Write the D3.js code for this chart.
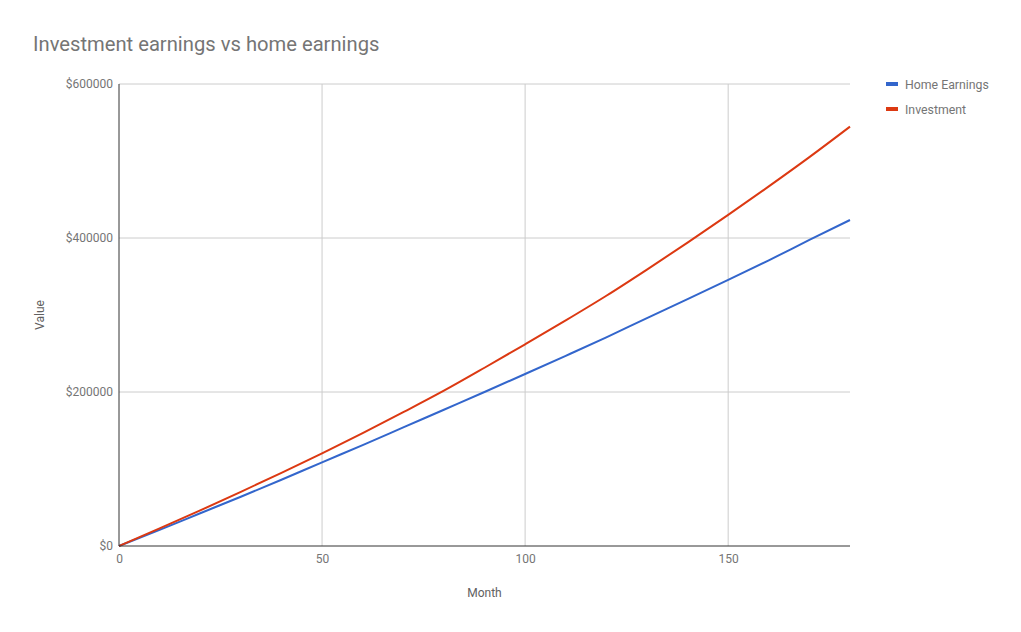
<!DOCTYPE html>
<html>
<head>
<meta charset="utf-8">
<script src="https://cdn.jsdelivr.net/npm/d3@7"></script>
<style>
  body { margin: 0; background: #fff; }
  svg { font-family: Roboto, "Noto Sans", sans-serif; }
</style>
</head>
<body>
<svg id="chart"></svg>
<script>
// data (month, value in $)
const months = [0, 10, 20, 30, 40, 50, 60, 70, 80, 90, 100, 110, 120, 130, 140, 150, 160, 170, 180];
const homeEarnings = [0, 21000, 42500, 64000, 86000, 108700, 131000, 154000, 177000, 200000, 223400, 247000, 271000, 296000, 320500, 345500, 371000, 397500, 423400];
const investment = [0, 22800, 46200, 70300, 95000, 120400, 146700, 173800, 201700, 231500, 262000, 293000, 325000, 359000, 394000, 430000, 467000, 505000, 544600];
const seriesNames = ["Home Earnings", "Investment"];
const colors = ["#3366cc", "#dc3912"];
const xTicks = [0, 50, 100, 150];
const yTicks = [0, 200000, 400000, 600000];

const W = 1021, H = 632;
const margin = {top: 84, right: 171, bottom: 86, left: 119};
const width = W - margin.left - margin.right;
const height = H - margin.top - margin.bottom;

const svg = d3.select("#chart").attr("width", W).attr("height", H);

svg.append("text")
  .attr("x", 33).attr("y", 51)
  .attr("font-size", 20.2)
  .attr("fill", "#757575")
  .text("Investment earnings vs home earnings");

const g = svg.append("g")
  .attr("transform", "translate(" + margin.left + "," + margin.top + ")");

const x = d3.scaleLinear().domain([0, 180]).range([0, width]);
const y = d3.scaleLinear().domain([0, 600000]).range([height, 0]);

// gridlines
g.append("g").selectAll("line").data(yTicks.filter(d => d > 0)).enter().append("line")
  .attr("x1", 0).attr("x2", width)
  .attr("y1", d => y(d)).attr("y2", d => y(d))
  .attr("stroke", "#cccccc");
g.append("g").selectAll("line").data(xTicks.filter(d => d > 0)).enter().append("line")
  .attr("y1", 0).attr("y2", height)
  .attr("x1", d => x(d)).attr("x2", d => x(d))
  .attr("stroke", "#cccccc");

// axes
const yAxis = g.append("g")
  .call(d3.axisLeft(y).tickValues(yTicks).tickSize(0).tickPadding(6).tickFormat(d => "$" + d));
const xAxis = g.append("g")
  .attr("transform", "translate(0," + height + ")")
  .call(d3.axisBottom(x).tickValues(xTicks).tickSize(0).tickPadding(8));
[xAxis, yAxis].forEach(a => {
  a.select(".domain").remove();
  a.selectAll("text").attr("fill", "#757575").attr("font-size", 12)
    .attr("font-family", "Roboto, sans-serif");
});

// series lines
const line = d3.line()
  .x((d, i) => x(months[i]))
  .y(d => y(d))
  .curve(d3.curveMonotoneX);

[homeEarnings, investment].forEach((s, i) => {
  g.append("path")
    .datum(s)
    .attr("fill", "none")
    .attr("stroke", colors[i])
    .attr("stroke-width", 2)
    .attr("d", line);
});

// axis lines on top
g.append("line").attr("x1", 0).attr("x2", 0).attr("y1", 0).attr("y2", height)
  .attr("stroke", "#333").attr("stroke-width", 1);
g.append("line").attr("x1", 0).attr("x2", width).attr("y1", height).attr("y2", height)
  .attr("stroke", "#333").attr("stroke-width", 1);

// axis titles
svg.append("text")
  .attr("x", margin.left + width / 2).attr("y", 597)
  .attr("text-anchor", "middle")
  .attr("font-size", 12).attr("fill", "#616161")
  .text("Month");
svg.append("text")
  .attr("transform", "translate(44," + (margin.top + height / 2) + ") rotate(-90)")
  .attr("text-anchor", "middle")
  .attr("font-size", 12).attr("fill", "#616161")
  .text("Value");

// legend
const legend = svg.append("g").attr("transform", "translate(886,84)");
seriesNames.forEach((n, i) => {
  const row = legend.append("g").attr("transform", "translate(0," + (i * 25) + ")");
  row.append("rect").attr("x", 0).attr("y", -2).attr("width", 12).attr("height", 4)
    .attr("fill", colors[i]);
  row.append("text").attr("x", 19).attr("y", 4.5)
    .attr("font-size", 12.3).attr("fill", "#757575")
    .text(n);
});
</script>
</body>
</html>
